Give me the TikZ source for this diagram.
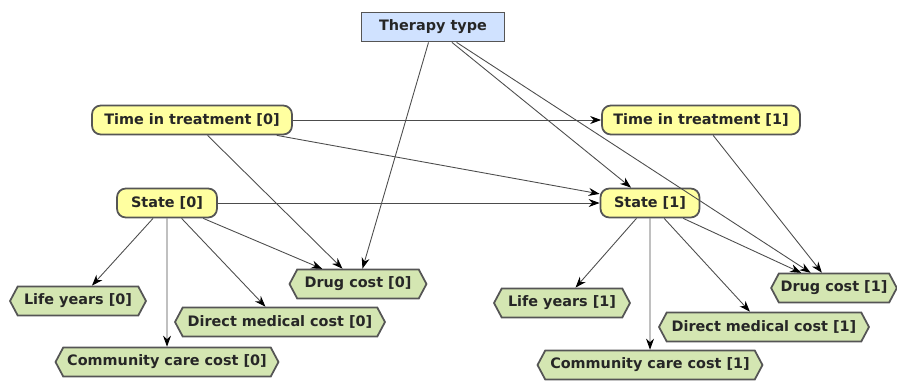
\documentclass[tikz,border=0pt]{standalone}
\usepackage{fontspec}
\setmainfont{DejaVu Sans}
\usetikzlibrary{shapes.symbols, arrows.meta}
\definecolor{therapyblue}{RGB}{208,226,255}
\definecolor{timeyellow}{RGB}{255,255,160}
\definecolor{costgreen}{RGB}{212,230,178}
\definecolor{edgegray}{RGB}{85,85,85}
\tikzstyle{base} = [draw=edgegray, line width=1pt, minimum height=0.58cm, inner sep=1pt, text=black!85, font=\bfseries\fontsize{8.2}{9}\selectfont]
\tikzstyle{therapy} = [base, rectangle, fill=therapyblue, minimum width=2.86cm]
\tikzstyle{timenode} = [base, rectangle, rounded corners=5pt, fill=timeyellow]
\tikzstyle{cost} = [base, signal, signal to=west and east, signal pointer angle=124, fill=costgreen]
\tikzstyle{arrow} = [-{Stealth[length=2.2mm,width=1.6mm,black]}, draw=black!70, line width=0.5pt]

\begin{document}
\begin{tikzpicture}[x=0.02cm,y=-0.02cm]
	\useasboundingbox (0,0) rectangle (897,380);
	% decision node
	\node[therapy] (therapy) at (433,27) {Therapy type};
	% slice 0
	\node[timenode, minimum width=4cm] (time0) at (192,120) {Time in treatment [0]};
	\node[timenode, minimum width=2cm] (state0) at (167,203) {State [0]};
	\node[cost, minimum width=2.74cm] (drug0) at (358,284) {Drug cost [0]};
	\node[cost, minimum width=2.72cm] (life0) at (78,301) {Life years [0]};
	\node[cost, minimum width=4.2cm] (direct0) at (280,322) {Direct medical cost [0]};
	\node[cost, minimum width=4.46cm] (comm0) at (167,362) {Community care cost [0]};
	% slice 1
	\node[timenode, minimum width=3.96cm] (time1) at (701,120) {Time in treatment [1]};
	\node[timenode, minimum width=1.98cm] (state1) at (650,203) {State [1]};
	\node[cost, minimum width=2.5cm] (drug1) at (834,288) {Drug cost [1]};
	\node[cost, minimum width=2.72cm] (life1) at (562,303) {Life years [1]};
	\node[cost, minimum width=4.2cm] (direct1) at (764,327) {Direct medical cost [1]};
	\node[cost, minimum width=4.5cm] (comm1) at (650,365) {Community care cost [1]};
	% links
	\draw[arrow] (therapy) -- (drug0);
	\draw[arrow] (therapy) -- (state1);
	\draw[arrow] (therapy) -- (drug1);
	\draw[arrow] (time0) -- (time1);
	\draw[arrow] (time0) -- (state1);
	\draw[arrow] (time0) -- (drug0);
	\draw[arrow] (time1) -- (drug1);
	\draw[arrow] (state0) -- (state1);
	\foreach \t in {life0,comm0,direct0,drug0}
	\draw[arrow] (state0) -- (\t);
	\foreach \t in {life1,comm1,direct1,drug1}
	\draw[arrow] (state1) -- (\t);
\end{tikzpicture}
\end{document}
